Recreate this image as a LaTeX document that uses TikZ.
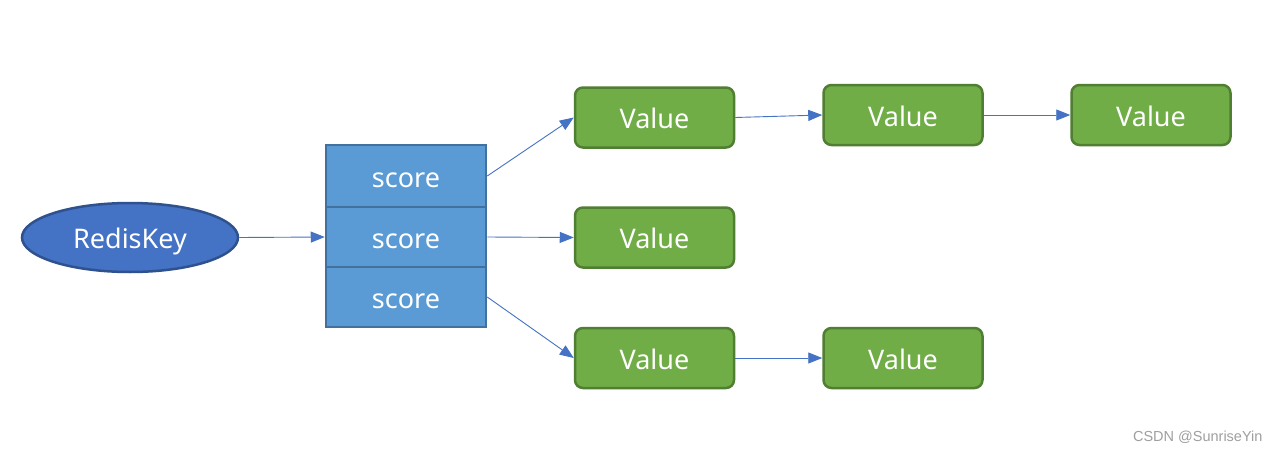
\documentclass[tikz,border=0pt]{standalone}
\usepackage{fontspec}
\setmainfont{Noto Sans}
\newfontfamily\wmfont{Liberation Sans}
\usetikzlibrary{arrows.meta,shapes.geometric}
\definecolor{keyfill}{HTML}{4472C4}
\definecolor{keydraw}{HTML}{2F528F}
\definecolor{scfill}{HTML}{5B9BD5}
\definecolor{scdraw}{HTML}{41719C}
\definecolor{valfill}{HTML}{70AD47}
\definecolor{valdraw}{HTML}{507E32}
\definecolor{arr}{HTML}{4472C4}
\tikzset{
  lbl/.style={text=white, font=\fontsize{27}{31}\selectfont, text height=22pt, text depth=0pt},
  keynode/.style={lbl, ellipse, fill=keyfill, draw=keydraw, line width=2.5pt, minimum width=216pt, minimum height=69pt, inner sep=0pt},
  scorebox/.style={lbl, rectangle, fill=scfill, draw=scdraw, line width=2.5pt, minimum width=160pt, inner sep=0pt},
  valbox/.style={lbl, rectangle, rounded corners=8pt, fill=valfill, draw=valdraw, line width=2.5pt, minimum width=159pt, minimum height=60pt, inner sep=0pt},
  conn/.style={draw=arr, line width=0.9pt, -{Triangle[length=14pt,width=11pt]}},
}
\begin{document}
\begin{tikzpicture}[x=1pt,y=-1pt]
\useasboundingbox[fill=white] (0,0) rectangle (1279,452);
\node[keynode] (key) at (130,237.5) {RedisKey};
\node[scorebox, minimum height=62pt] (s1) at (406,176) {score};
\node[scorebox, minimum height=60pt] (s2) at (406,237) {score};
\node[scorebox, minimum height=60pt] (s3) at (406,297) {score};
\node[valbox] (v1) at (654.5,117.5) {Value};
\node[valbox] (v1b) at (903,115) {Value};
\node[valbox] (v1c) at (1151,115) {Value};
\node[valbox] (v2) at (654.5,237.5) {Value};
\node[valbox] (v3) at (654.5,358) {Value};
\node[valbox] (v3b) at (903,358) {Value};
\draw[conn] (key.east) -- (s2.west);
\draw[conn] (s1.east) -- (v1.west);
\draw[conn] (s2.east) -- (v2.west);
\draw[conn] (s3.east) -- (v3.west);
\draw[conn] (v1.east) -- (v1b.west);
\draw[conn] (v1b.east) -- (v1c.west);
\draw[conn] (v3.east) -- (v3b.west);
\node[text=gray!75, font=\fontsize{14.5}{17}\selectfont\wmfont, anchor=east] (wm) at (1266,437) {CSDN @SunriseYin};
\end{tikzpicture}
\end{document}
